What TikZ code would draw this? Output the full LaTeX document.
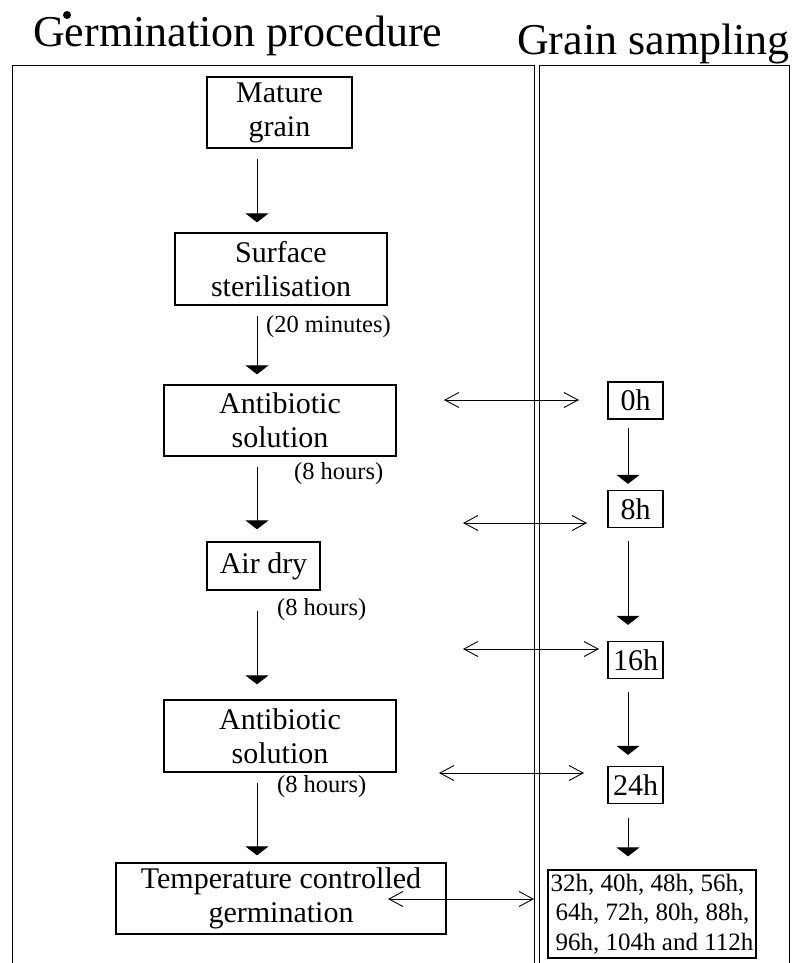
\documentclass[tikz,border=0pt]{standalone}
\usepackage{fontspec}
\setmainfont{Liberation Serif}
\usetikzlibrary{arrows.meta,calc}
\begin{document}
\begin{tikzpicture}[x=1pt,y=-1pt,
  box/.style={draw,line width=1.3pt,inner sep=0pt,align=center,font=\fontsize{30}{34}\selectfont},
  tbox/.style={box,minimum width=55pt,minimum height=37pt},
  note/.style={anchor=base west,inner sep=0pt,font=\fontsize{24.5}{28}\selectfont},
  title/.style={anchor=base west,inner sep=0pt,font=\fontsize{44}{50}\selectfont},
  arr/.style={line width=0.9pt,-{Triangle[width=23pt,length=9pt]}},
  darr/.style={line width=0.9pt,{Straight Barb[length=14pt,width=15pt]}-{Straight Barb[length=14pt,width=15pt]}},
  frame/.style={line width=0.9pt}]
\useasboundingbox (0,0) rectangle (792,963);
% titles
\node[title] (t1) at (33,47) {Germination procedure};
\node[title] (t2) at (517,55) {Grain sampling};
\fill (67,15) circle[radius=4];
% frames
\draw[frame] (12,970) -- (12,65) -- (534,65) -- (534,970);
\draw[frame] (539,970) -- (539,65) -- (789,65) -- (789,970);
% axes
\coordinate (ax) at (257,0);
\coordinate (bx) at (628,0);
% procedure boxes
\node[box,minimum width=145pt,minimum height=71pt] (m) at (279.5,112.5) {Mature\\grain};
\node[box,minimum width=212pt,minimum height=72pt] (s) at (281,269) {Surface\\sterilisation};
\node[box,minimum width=232pt,minimum height=71pt] (a1) at (280,420.5) {Antibiotic\\solution};
\node[box,minimum width=113pt,minimum height=48pt] (d) at (263.5,566) {Air dry};
\node[box,minimum width=232pt,minimum height=72pt] (a2) at (280,736) {Antibiotic\\solution};
\node[box,minimum width=330pt,minimum height=71pt] (g) at (281,898.5) {Temperature controlled\\germination};
% notes
\node[note] (n1) at (266,332) {(20 minutes)};
\node[note] (n2) at (294,479) {(8 hours)};
\node[note] (n3) at (277,615) {(8 hours)};
\node[note] (n4) at (277,792) {(8 hours)};
% sampling boxes
\node[tbox] (h0) at (635.5,400.5) {0h};
\node[tbox] (h8) at (635.5,509) {8h};
\node[tbox] (h16) at (635.5,660) {16h};
\node[tbox] (h24) at (635.5,785) {24h};
\node[draw,line width=1.3pt,inner xsep=1pt,inner ysep=0pt,minimum width=208pt,minimum height=88pt,align=left,font=\fontsize{25}{29.5}\selectfont] (hl) at (652,914) {32h, 40h, 48h, 56h,\\\hspace*{5pt}64h, 72h, 80h, 88h,\\\hspace*{5pt}96h, 104h and 112h};
% procedure arrows
\draw[arr] ($(m.south -| ax)+(0,10)$) -- ($(s.north -| ax)+(0,-10)$);
\draw[arr] ($(s.south -| ax)+(0,10)$) -- ($(a1.north -| ax)+(0,-10)$);
\draw[arr] ($(a1.south -| ax)+(0,10)$) -- ($(d.north -| ax)+(0,-12)$);
\draw[arr] ($(d.south -| ax)+(0,20)$) -- ($(a2.north -| ax)+(0,-15)$);
\draw[arr] ($(a2.south -| ax)+(0,10)$) -- ($(g.north -| ax)+(0,-7)$);
% sampling arrows
\draw[arr] ($(h0.south -| bx)+(0,8)$) -- ($(h8.north -| bx)+(0,-6)$);
\draw[arr] ($(h8.south -| bx)+(0,13)$) -- ($(h16.north -| bx)+(0,-16)$);
\draw[arr] ($(h16.south -| bx)+(0,13)$) -- ($(h24.north -| bx)+(0,-11)$);
\draw[arr] ($(h24.south -| bx)+(0,14)$) -- ($(hl.north -| bx)+(0,-13)$);
% double arrows
\coordinate (l1) at (444,400); \coordinate (r1) at (579,400);
\coordinate (l2) at (463,523); \coordinate (r2) at (587,523);
\coordinate (l3) at (463,649); \coordinate (r3) at (599,649);
\coordinate (l4) at (439,773); \coordinate (r4) at (584,773);
\coordinate (l5) at (388,899); \coordinate (r5) at (534,899);
\draw[darr] (l1) -- (r1);
\draw[darr] (l2) -- (r2);
\draw[darr] (l3) -- (r3);
\draw[darr] (l4) -- (r4);
\draw[darr] (l5) -- (r5);
\end{tikzpicture}
\end{document}
